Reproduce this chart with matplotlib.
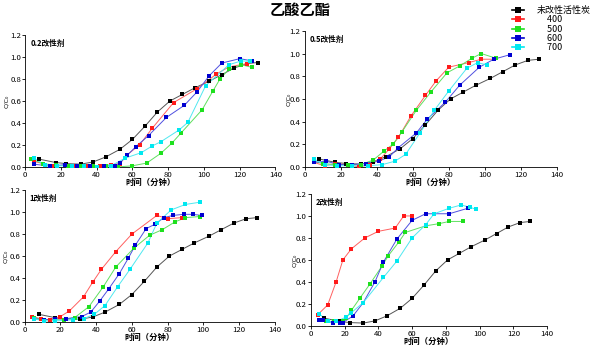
import matplotlib
matplotlib.use('Agg')
import matplotlib.pyplot as plt

plt.rcParams['font.family'] = ['Noto Sans CJK SC', 'DejaVu Sans']
plt.rcParams['axes.unicode_minus'] = False

# unmodified carbon - same curve in every panel
t_raw = [8, 17, 23, 31, 38, 45, 53, 60, 67, 74, 81, 88, 95, 103, 110, 117, 124, 130]
c_raw = [0.07, 0.04, 0.03, 0.025, 0.045, 0.09, 0.16, 0.25, 0.37, 0.5, 0.6, 0.66, 0.72, 0.78, 0.84, 0.9, 0.94, 0.95]

# 0.2 modifier
t_02_400 = [5, 10, 15, 22, 28, 35, 42, 48, 53, 57, 64, 71, 83, 96, 107, 114, 124]
c_02_400 = [0.05, 0.03, 0.01, 0.015, 0.01, 0.01, 0.01, 0.02, 0.03, 0.11, 0.2, 0.35, 0.585, 0.71, 0.845, 0.91, 0.94]
t_02_500 = [3, 10, 17, 24, 31, 38, 45, 52, 60, 68, 76, 82, 87, 99, 105, 109, 114, 121, 127]
c_02_500 = [0.075, 0.03, 0.015, 0.01, 0.01, 0.005, 0.01, 0.0, 0.01, 0.035, 0.125, 0.215, 0.305, 0.52, 0.69, 0.8, 0.89, 0.93, 0.905]
t_02_600 = [5, 14, 22, 29, 36, 44, 50, 53, 57, 62, 69, 79, 89, 96, 103, 110, 120, 127]
c_02_600 = [0.025, 0.006, 0.02, 0.01, 0.005, 0.01, 0.01, 0.035, 0.105, 0.185, 0.285, 0.45, 0.56, 0.68, 0.83, 0.945, 0.985, 0.965]
t_02_700 = [5, 11, 18, 26, 33, 40, 48, 56, 65, 71, 76, 86, 91, 101, 114, 121, 126]
c_02_700 = [0.077, 0.02, 0.01, 0.01, 0.01, 0.0, 0.01, 0.08, 0.13, 0.19, 0.23, 0.335, 0.405, 0.74, 0.93, 0.965, 0.96]

# 0.5 modifier
t_05_400 = [5, 11, 17, 24, 30, 36, 42, 47, 52, 59, 67, 73, 80, 91, 98, 105]
c_05_400 = [0.04, 0.01, 0.03, 0.02, 0.0, 0.02, 0.07, 0.16, 0.26, 0.45, 0.63, 0.76, 0.88, 0.92, 0.95, 0.95]
t_05_500 = [5, 10, 17, 24, 31, 38, 44, 49, 54, 62, 70, 79, 86, 93, 98, 106]
c_05_500 = [0.05, 0.03, 0.02, 0.02, 0.02, 0.06, 0.14, 0.2, 0.31, 0.5, 0.66, 0.83, 0.89, 0.96, 1.0, 0.96]
t_05_600 = [5, 12, 19, 26, 34, 41, 47, 52, 62, 68, 78, 86, 97, 105, 114]
c_05_600 = [0.04, 0.05, 0.02, 0.02, 0.03, 0.05, 0.09, 0.17, 0.3, 0.42, 0.57, 0.72, 0.88, 0.95, 0.99]
t_05_700 = [5, 11, 18, 26, 35, 43, 50, 56, 64, 72, 80, 90, 96, 101]
c_05_700 = [0.07, 0.02, 0.01, 0.01, 0.01, 0.02, 0.05, 0.11, 0.3, 0.5, 0.67, 0.87, 0.92, 0.9]

# 1 modifier
t_1_400 = [4, 9, 14, 20, 25, 33, 38, 43, 51, 60, 74, 80, 88]
c_1_400 = [0.05, 0.03, 0.02, 0.05, 0.1, 0.23, 0.36, 0.48, 0.64, 0.8, 0.97, 0.94, 0.95]
t_1_500 = [5, 11, 17, 22, 28, 36, 44, 51, 61, 70, 77, 84, 90, 98]
c_1_500 = [0.04, 0.02, 0.02, 0.02, 0.04, 0.14, 0.32, 0.5, 0.67, 0.79, 0.84, 0.91, 0.95, 0.96]
t_1_600 = [5, 11, 17, 23, 32, 37, 42, 47, 53, 58, 62, 68, 73, 78, 83, 89, 94, 99]
c_1_600 = [0.03, 0.02, 0.03, 0.03, 0.05, 0.09, 0.19, 0.3, 0.44, 0.58, 0.7, 0.85, 0.89, 0.95, 0.97, 0.98, 0.98, 0.97]
t_1_700 = [5, 11, 17, 27, 33, 39, 45, 52, 59, 69, 74, 82, 90, 98]
c_1_700 = [0.03, 0.01, 0.01, 0.02, 0.03, 0.07, 0.15, 0.32, 0.48, 0.72, 0.9, 1.02, 1.07, 1.09]

# 2 modifier
t_2_400 = [4, 10, 15, 19, 24, 32, 40, 50, 55, 60]
c_2_400 = [0.1, 0.19, 0.4, 0.6, 0.7, 0.8, 0.86, 0.89, 1.0, 1.0]
t_2_500 = [5, 9, 14, 19, 21, 24, 29, 35, 42, 46, 52, 56, 68, 76, 82, 90]
c_2_500 = [0.05, 0.04, 0.04, 0.04, 0.07, 0.14, 0.25, 0.38, 0.54, 0.64, 0.76, 0.85, 0.91, 0.93, 0.95, 0.95]
t_2_600 = [5, 7, 13, 17, 19, 25, 31, 38, 43, 51, 60, 68, 82, 93]
c_2_600 = [0.05, 0.05, 0.03, 0.03, 0.03, 0.09, 0.21, 0.4, 0.58, 0.79, 0.96, 1.02, 1.02, 1.07]
t_2_700 = [5, 10, 15, 21, 24, 31, 43, 51, 60, 68, 73, 82, 89, 94, 98]
c_2_700 = [0.11, 0.04, 0.04, 0.08, 0.12, 0.21, 0.44, 0.59, 0.8, 0.92, 1.02, 1.07, 1.1, 1.08, 1.06]

panel_names = ['0.2改性剂', '0.5改性剂', '1改性剂', '2改性剂']
series_names = ['未改性活性炭', '400', '500', '600', '700']
colors = ['black', '#ff1a1a', '#1ee01e', '#0000d0', '#00e8f0']
line_colors = ['#555555', '#ff6060', '#60e060', '#5050e0', '#50e8f0']

panels = [
    [(t_raw, c_raw), (t_02_400, c_02_400), (t_02_500, c_02_500), (t_02_600, c_02_600), (t_02_700, c_02_700)],
    [(t_raw, c_raw), (t_05_400, c_05_400), (t_05_500, c_05_500), (t_05_600, c_05_600), (t_05_700, c_05_700)],
    [(t_raw, c_raw), (t_1_400, c_1_400), (t_1_500, c_1_500), (t_1_600, c_1_600), (t_1_700, c_1_700)],
    [(t_raw, c_raw), (t_2_400, c_2_400), (t_2_500, c_2_500), (t_2_600, c_2_600), (t_2_700, c_2_700)],
]

boxes = [
    [0.042, 0.519, 0.417, 0.380],
    [0.508, 0.519, 0.420, 0.392],
    [0.041, 0.072, 0.417, 0.380],
    [0.518, 0.061, 0.394, 0.380],
]
label_offsets = [16, 14, 16, 14]

fig = plt.figure(figsize=(6, 3.47), dpi=100)

handles = []
for k in range(4):
    ax = fig.add_axes(boxes[k])
    for i, (t, c) in enumerate(panels[k]):
        ax.plot(t, c, color=line_colors[i], linewidth=0.7, zorder=2 + i)
        ax.plot(t, c, linestyle='none', marker='s', markersize=2.6,
                color=colors[i], markeredgewidth=0, zorder=7 + i)
        if k == 0:
            h, = ax.plot([], [], color=colors[i], marker='s', markersize=4,
                         linewidth=1.2, markeredgewidth=0)
            handles.append(h)
    ax.set_xlim(0, 140)
    ax.set_ylim(0, 1.2)
    ax.set_xticks(range(0, 141, 20))
    ax.set_yticks([0, 0.2, 0.4, 0.6, 0.8, 1.0, 1.2])
    ax.set_yticklabels(['0.0', '0.2', '0.4', '0.6', '0.8', '1.0', '1.2'])
    ax.spines['top'].set_visible(False)
    ax.spines['right'].set_visible(False)
    ax.spines['left'].set_linewidth(0.6)
    ax.spines['bottom'].set_linewidth(0.6)
    ax.tick_params(labelsize=5.6, length=2.2, width=0.6, pad=0.8)
    ax.set_xlabel('时间（分钟）', fontsize=6, fontweight='bold', labelpad=-1)
    ax.set_ylabel('C/C₀', fontsize=4.6, family=['DejaVu Sans'])
    ax.yaxis.set_label_coords(-label_offsets[k] / (boxes[k][2] * 600), 0.5)
    ax.text(0.02, 0.97, panel_names[k], transform=ax.transAxes,
            fontsize=5.5, fontweight='bold', va='top', ha='left')
    ax.patch.set_alpha(0)

fig.text(0.5, 0.995, '乙酸乙酯', ha='center', va='top', fontsize=11, fontweight='bold')

legend_labels = [series_names[0]] + ['     ' + s for s in series_names[1:]]
fig.legend(handles, legend_labels, loc='upper right', bbox_to_anchor=(0.995, 1.0),
           frameon=False, fontsize=6.5, handlelength=1.3, labelspacing=0.02,
           borderaxespad=0.3, handletextpad=1.4)

fig.savefig('out.png', dpi=100)
